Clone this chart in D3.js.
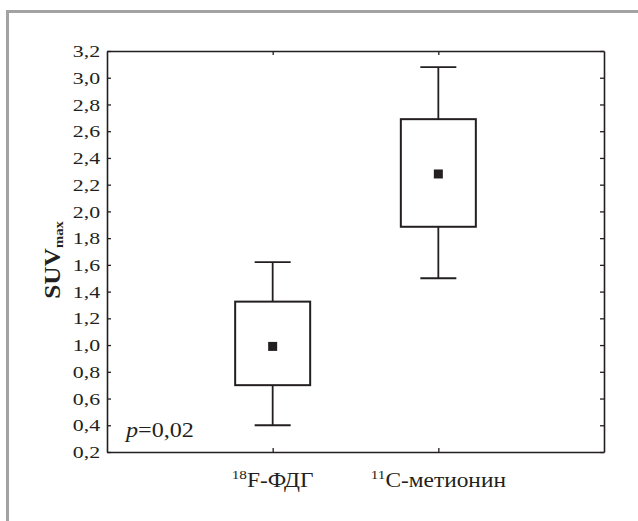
<!DOCTYPE html>
<html>
<head>
<meta charset="utf-8">
<script src="https://cdn.jsdelivr.net/npm/d3@7"></script>
<style>
  body { margin: 0; background: #fff; }
</style>
</head>
<body>
<svg id="chart" width="638" height="521"></svg>
<script>
// values
const categories = ["18F-ФДГ", "11C-метионин"];
const catMass = ["18", "11"];
const catName = ["F-ФДГ", "C-метионин"];
const centers = [0.99, 2.28];
const boxLow = [0.70, 1.885];
const boxHigh = [1.325, 2.69];
const whiskLow = [0.40, 1.50];
const whiskHigh = [1.62, 3.08];
const yTicks = [0.2, 0.4, 0.6, 0.8, 1.0, 1.2, 1.4, 1.6, 1.8, 2.0, 2.2, 2.4, 2.6, 2.8, 3.0, 3.2];

const svg = d3.select("#chart"),
    plotL = 107, plotR = 604, plotT = 51, plotB = 452;

const ink = "#231f20";
const serif = "'Liberation Serif', 'DejaVu Serif', serif";
const fmt = d => d3.format(".1f")(d).replace(".", ",");

const x = d3.scalePoint().domain(categories).range([plotL, plotR]).padding(1);
const y = d3.scaleLinear().domain([0.2, 3.2]).range([plotB, plotT]);

// outer frame (only top and left visible)
svg.append("path")
    .attr("d", `M7.5,521 V11.5 H638`)
    .attr("fill", "none")
    .attr("stroke", "#a3a3a3")
    .attr("stroke-width", 3);

// axes
const gl = svg.append("g").attr("transform", `translate(${plotL},0)`)
    .call(d3.axisLeft(y).tickValues(yTicks).tickFormat(fmt).tickSize(-4).tickSizeOuter(0).tickPadding(5.5));
gl.attr("font-family", serif).attr("font-size", 17.5);
gl.selectAll("text").attr("fill", ink).attr("transform", "scale(1.25,1)");

svg.append("g").attr("transform", `translate(${plotR},0)`)
    .call(d3.axisRight(y).tickValues(yTicks).tickFormat("").tickSize(-4).tickSizeOuter(0));

svg.append("g").attr("transform", `translate(0,${plotB})`)
    .call(d3.axisBottom(x).tickFormat("").tickSize(-4).tickSizeOuter(0));

svg.append("g").attr("transform", `translate(0,${plotT})`)
    .call(d3.axisTop(x).tickFormat("").tickSize(-4).tickSizeOuter(0));

svg.selectAll(".domain").attr("stroke", ink).attr("stroke-width", 1.6);
svg.selectAll(".tick line").attr("stroke", ink).attr("stroke-width", 1.3);

// category labels with superscript mass number
const lab = svg.append("g")
    .attr("font-family", serif)
    .attr("fill", ink)
    .selectAll("g")
    .data(categories)
    .join("g")
    .attr("transform", d => `translate(${x(d)},487) scale(1.17,1)`)
    .append("text")
    .attr("text-anchor", "middle")
    .attr("font-size", 20);
lab.append("tspan")
    .attr("dy", -8)
    .attr("font-size", 13)
    .text((d, i) => catMass[i]);
lab.append("tspan")
    .attr("dy", 8)
    .text((d, i) => catName[i]);

// y axis title
const yt = svg.append("text")
    .attr("transform", `translate(60,260) rotate(-90) scale(1.13,1)`)
    .attr("text-anchor", "middle")
    .attr("font-family", serif)
    .attr("fill", ink)
    .attr("font-size", 22.5)
    .attr("font-weight", "bold");
yt.append("tspan").text("SUV");
yt.append("tspan").attr("dy", 3).attr("font-size", 13).text("max");

// whiskers and boxes
const boxW = 75, capW = 36, sq = 9;
const g = svg.append("g");
categories.forEach((c, i) => {
    const cx = x(c);
    g.append("line")
        .attr("x1", cx).attr("x2", cx)
        .attr("y1", y(whiskHigh[i])).attr("y2", y(boxHigh[i]))
        .attr("stroke", ink).attr("stroke-width", 1.8);
    g.append("line")
        .attr("x1", cx).attr("x2", cx)
        .attr("y1", y(boxLow[i])).attr("y2", y(whiskLow[i]))
        .attr("stroke", ink).attr("stroke-width", 1.8);
    [whiskHigh[i], whiskLow[i]].forEach(v => {
        g.append("line")
            .attr("x1", cx - capW / 2).attr("x2", cx + capW / 2)
            .attr("y1", y(v)).attr("y2", y(v))
            .attr("stroke", ink).attr("stroke-width", 1.8);
    });
    g.append("rect")
        .attr("x", cx - boxW / 2)
        .attr("y", y(boxHigh[i]))
        .attr("width", boxW)
        .attr("height", y(boxLow[i]) - y(boxHigh[i]))
        .attr("fill", "#fff")
        .attr("stroke", ink).attr("stroke-width", 2);
    g.append("rect")
        .attr("x", cx - sq / 2)
        .attr("y", y(centers[i]) - sq / 2)
        .attr("width", sq).attr("height", sq)
        .attr("fill", ink);
});

// p value
const pt = svg.append("text")
    .attr("transform", "translate(126,437) scale(1.15,1)")
    .attr("font-family", serif)
    .attr("fill", ink)
    .attr("font-size", 21);
pt.append("tspan").attr("font-style", "italic").text("p");
pt.append("tspan").text("=0,02");
</script>
</body>
</html>
